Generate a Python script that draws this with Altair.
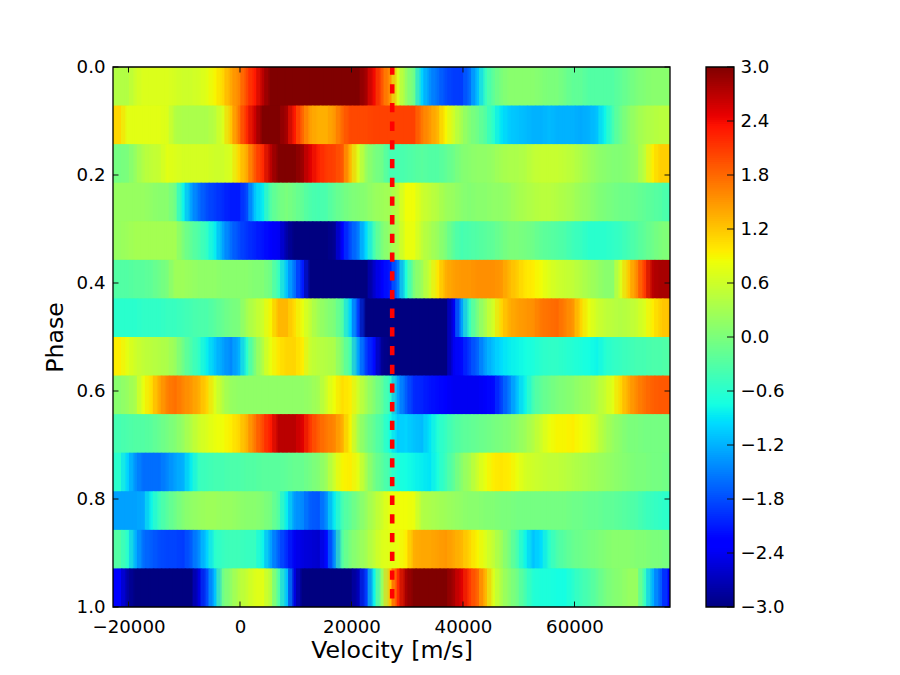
import altair as alt
import numpy as np
import pandas as pd

X_DOMAIN = [-22780, 77130]
VEL_LINE = 27300
X_TICKS = [-20000, 0, 20000, 40000, 60000]
Y_TICKS = [0.0, 0.2, 0.4, 0.6, 0.8, 1.0]
C_TICKS = [-3.0, -2.4, -1.8, -1.2, -0.6, 0.0, 0.6, 1.2, 1.8, 2.4, 3.0]

row00 = [.4,.4,.6,.7,.7,.7,.7,.65,.6,.6,.65,.75,.9,1.1,1.4,1.6,2.0,2.3,2.7,3,3,3,3,3,3,3,3,3,3,3,3,2.8,2.4,1.9,1.5,.7,.2,-.1,-1.0,-1.4,-1.6,-1.8,-1.9,-1.9,-1.6,-1.1,-.5,-.2,0,.1,.1,.1,.1,.05,0,0,-.1,-.2,-.2,-.3,-.3,-.3,-.3,-.2,-.1,0,.05,.1,.1,.1]
row01 = [1.1,.75,.75,.75,.75,.75,.7,.4,.35,.35,.35,.35,.45,.7,1.2,1.7,2.2,2.6,3,3,3,2.8,2.3,1.8,1.45,1.35,1.35,1.5,1.8,2,2,2,2.05,2.05,2.05,2.05,2.05,2.05,1.7,1.5,1.3,.9,.6,.3,.05,-.1,-.3,-.6,-.9,-1.05,-1.1,-1.15,-1.2,-1.2,-1.15,-1.2,-1.2,-1.2,-1.25,-1.2,-1.1,-.8,-.4,-.1,.1,.25,.35,.4,.45,.45]
row02 = [-.05,0,.2,.4,.5,.55,.75,.7,.65,.65,.65,.65,.6,.6,.7,1.1,1.4,1.9,2.2,2.7,3,3,3,2.85,2.5,2.25,2.1,2.05,1.9,1.3,.7,.2,0,-.1,-.4,-.4,-.35,-.3,-.25,-.3,-.3,-.2,-.1,.05,.1,.15,.15,.2,.3,.35,.35,.4,.5,.55,.55,.55,.5,.45,.35,.25,.15,.1,.05,.05,.1,.2,.5,.95,1.15,1.15]
row03 = [.2,.2,.2,.2,.15,.1,.1,-.1,-.8,-1.3,-1.6,-1.8,-1.9,-2,-2.1,-2.1,-1.8,-1.1,-.85,-.3,-.1,0,-.1,-.2,-.35,-.4,-.35,-.2,-.1,0,.05,.1,.2,.25,.3,.45,.85,.85,.6,.5,.4,.25,.2,.1,.05,.1,.1,.15,.15,.2,.3,.35,.4,.45,.45,.4,.35,.3,.2,.15,.05,0,-.05,-.1,-.1,-.15,-.2,-.25,-.3,-.4]
row04 = [.2,.25,.3,.3,.3,.3,.3,.3,0,-.2,-.35,-.55,-.85,-1.3,-1.6,-1.8,-1.95,-2.05,-2.15,-2.25,-2.4,-2.8,-3,-3,-3,-3,-3,-2.9,-2.3,-1.8,-1.5,-.95,-.4,0,.2,.4,.8,.8,.5,.35,.2,0,-.25,-.4,-.35,-.3,-.25,-.2,-.1,0,0,-.05,-.1,-.2,-.25,-.3,-.35,-.45,-.5,-.6,-.6,-.6,-.55,-.5,-.4,-.3,-.2,-.1,0,.05]
row05 = [-.3,-.3,-.25,-.25,-.2,-.1,0,.25,.25,.2,.15,.15,.15,.1,.1,.1,.1,.05,.05,-.1,-.5,-1.1,-1.6,-2.1,-3,-3,-3,-3,-3,-3,-3,-3,-2.6,-2.3,-2.1,-1.5,-.7,0,.25,.6,1.0,1.35,1.45,1.5,1.5,1.55,1.55,1.55,1.5,1.3,1.15,1.0,.95,.85,.7,.6,.55,.5,.4,.3,.2,.1,.1,.7,1.2,1.6,2.1,2.7,2.8,2.8]
row06 = [-.6,-.6,-.6,-.55,-.55,-.55,-.5,-.5,-.45,-.4,-.35,-.35,-.25,-.15,-.05,0,.3,.45,.6,.9,1.3,1.3,1.05,.8,.5,.25,.1,0,-.3,-1.0,-1.9,-3,-3,-3,-3,-3,-3,-3,-3,-3,-3,-3,-2.4,-1.3,-.5,0,.35,.65,1.1,1.35,1.45,1.5,1.55,1.7,1.75,1.8,1.65,1.5,1.1,.8,.6,.5,.45,.4,.45,.55,.7,.95,1.15,1.25]
row07 = [.95,.75,.6,.5,.45,.4,.35,.2,-.1,-.35,-.55,-.85,-1.1,-1.3,-1.45,-1.2,-.6,0,.4,.8,1.0,1.1,1.1,.95,.55,.45,.4,.35,0,-.4,-1.3,-1.9,-2.2,-2.9,-3,-3,-3,-3,-3,-3,-3,-3,-2.4,-2.2,-1.9,-1.65,-1.3,-1.1,-.95,-.85,-.8,-.75,-.7,-.6,-.55,-.55,-.6,-.65,-.7,-.75,-.8,-.65,-.55,-.5,-.45,-.4,-.4,-.35,-.35,-.3]
row08 = [.1,.2,.35,.8,1.05,1.4,1.65,1.75,1.6,1.5,1.35,1.1,.7,.4,.2,.15,.15,.15,.15,.15,.15,.15,.15,.15,.2,.3,.6,.85,1.05,.95,.6,.3,.05,-.2,-.55,-1.3,-1.7,-2,-2.05,-2.15,-2.2,-2.3,-2.4,-2.4,-2.4,-2.4,-2.35,-2.2,-1.85,-1.5,-1.1,-.8,-.4,-.2,-.1,0,.05,.1,.2,.25,.4,.55,.75,1.1,1.4,1.6,1.75,1.85,1.9,1.9]
row09 = [-.4,-.35,-.3,-.3,-.25,-.15,-.05,.05,.2,.4,.6,.7,.8,.85,.95,1.1,1.35,1.7,2.0,2.3,2.7,2.7,2.7,2.5,2.1,1.85,1.7,1.6,1.35,.9,.3,0,-.2,-.4,-.75,-1.05,-1,-1.1,-1.15,-.9,-.65,-.5,-.35,-.25,-.2,-.15,-.1,-.05,0,.05,.15,.25,.4,.6,.8,.9,.9,.95,.85,.75,.55,.35,.2,.1,0,0,-.05,-.05,-.05,-.05]
row10 = [-.6,-1.0,-1.4,-1.6,-1.6,-1.6,-1.45,-1.3,-1.2,-.85,-.5,-.45,-.4,-.4,-.35,-.35,-.3,-.3,-.25,-.25,-.25,-.2,-.15,-.15,-.05,.05,.25,.6,.9,.95,.75,.3,-.05,-.25,-.45,-.7,-.75,-.8,-.85,-.9,-.7,-.45,-.2,.1,.3,.6,.8,.95,1.0,.95,.8,.65,.6,.55,.5,.5,.45,.4,.35,.3,.25,.2,.15,.1,.05,0,0,-.05,-.05,-.1]
row11 = [-1.3,-1.3,-1.3,-1.25,-.8,-.45,-.25,-.1,.05,.15,.2,.25,.25,.2,.2,.15,.1,.1,.05,-.05,-.3,-.85,-1.35,-1.45,-1.7,-1.75,-1.4,-.85,-.4,-.2,0,.2,.4,.6,.8,.85,.85,.8,.4,.35,.3,.25,.2,.15,.1,.1,.05,.05,0,0,-.05,-.05,-.05,-.05,-.05,-.05,-.05,-.1,-.1,-.15,-.15,-.2,-.2,-.25,-.3,-.35,-.45,-.5,-.55,-.6]
row12 = [-.3,-.6,-1.2,-1.6,-1.7,-1.8,-1.85,-1.85,-1.9,-1.7,-1.4,-1.0,-.6,-.5,-.45,-.45,-.5,-.5,-.8,-1.3,-1.7,-2.0,-2.4,-2.5,-2.55,-2.6,-2.2,-1.4,-.3,0,.15,.3,.5,.7,.75,.8,.95,1.35,1.4,1.4,1.45,1.5,1.4,1.3,1.1,.9,.7,.5,.25,-.05,-.4,-.8,-1.1,-.95,-.6,-.35,-.25,-.15,-.1,-.05,0,.05,.1,.1,.1,.05,.05,0,0,-.05]
row13 = [-2.3,-2.8,-3,-3,-3,-3,-3,-3,-3,-3,-2.5,-1.8,-1.1,-.1,.15,.4,.55,.7,.75,.4,-.35,-1.1,-2.5,-3,-3,-3,-3,-3,-3,-3,-2.7,-1.9,-.8,.2,1.2,2.2,2.8,3,3,3,3,3,2.8,2.5,2.1,1.8,1.3,.7,.35,.1,-.1,-.4,-.65,-.7,-.7,-.75,-.75,-.6,-.45,-.35,-.2,-.05,.05,.1,.2,.2,-.5,-1.2,-1.7,-2.3]

rows = [row00,row01,row02,row03,row04,row05,row06,row07,row08,row09,row10,row11,row12,row13]

JET_T = [-3.0,-2.34,-2.25,-0.96,-0.9,-0.75,0.84,0.9,0.96,2.34,2.46,3.0]
JET_C = ["#000080","#0000ff","#0000ff","#00dbff","#00e5f7","#15ffe2","#eeff08","#f7f600","#ffec00","#ff1300","#e80000","#800000"]

W, H = 557, 540
FONT = "DejaVu Sans"
color_scale = alt.Scale(domain=JET_T, range=JET_C, interpolate="rgb", clamp=True)
n_col = len(row00)
edges = np.linspace(X_DOMAIN[0], X_DOMAIN[1], n_col + 1)
step = edges[1] - edges[0]
cells, cells_half = [], []
for r, vals in enumerate(rows):
    y2 = min(1.0, (r + 1) / 14 + 0.002)
    for c, v in enumerate(vals):
        cells.append({"x": edges[c], "x2": min(edges[c + 1] + step * 0.2, X_DOMAIN[1]),
                      "y": r / 14, "y2": y2, "v": v})
        # second pass, half a column along, blends neighbouring columns
        cells_half.append({"x": edges[c] + step / 2,
                           "x2": min(edges[c + 1] + step * 0.7, X_DOMAIN[1]),
                           "y": r / 14, "y2": (r + 1) / 14, "v": v})
cells = pd.DataFrame(cells)
cells_half = pd.DataFrame(cells_half)
cells_half = cells_half[cells_half["x"] < X_DOMAIN[1] - step]

xs = alt.Scale(domain=X_DOMAIN, nice=False, zero=False)
ys = alt.Scale(domain=[0, 1], reverse=True, nice=False, zero=False)

heat = alt.Chart(cells).mark_rect().encode(
    x=alt.X("x:Q", scale=xs, title="Velocity [m/s]",
            axis=alt.Axis(values=X_TICKS, format="d", ticks=False, domain=False, grid=False,
                          labelPadding=11, titlePadding=3, labelFontSize=18.2, titleFontSize=23.6,
                          labelFont=FONT, titleFont=FONT, titleFontWeight="normal",
                          labelColor="black", titleColor="black", labelFlush=False)),
    x2="x2:Q",
    y=alt.Y("y:Q", scale=ys, title="Phase",
            axis=alt.Axis(values=Y_TICKS, format=".1f", ticks=False, domain=False, grid=False,
                          labelPadding=8, titlePadding=9, labelFontSize=18.2, titleFontSize=23.6,
                          labelFont=FONT, titleFont=FONT, titleFontWeight="normal",
                          labelColor="black", titleColor="black")),
    y2="y2:Q",
    color=alt.Color("v:Q", scale=color_scale, legend=None),
)

# The half-column pass is only a blend: it keeps to the plot area.
heat2 = alt.Chart(cells_half).mark_rect(opacity=0.5).encode(
    x=alt.X("x:Q", scale=xs), x2="x2:Q",
    y=alt.Y("y:Q", scale=ys), y2="y2:Q",
    color=alt.Color("v:Q", scale=color_scale, legend=None),
)

vline = alt.Chart(pd.DataFrame({"x": [VEL_LINE]})).mark_rule(
    color="#ff0000", strokeWidth=4.6, strokeDash=[9.3, 9.4], strokeDashOffset=1.5).encode(
    x=alt.X("x:Q", scale=xs), y=alt.value(0), y2=alt.value(H))

xt = pd.DataFrame({"x": X_TICKS})
yt = pd.DataFrame({"y": Y_TICKS})
TL = 5.5
tick_kw = dict(color="#111111", strokeWidth=1)
t1 = alt.Chart(xt).mark_rule(**tick_kw).encode(x=alt.X("x:Q", scale=xs), y=alt.value(H), y2=alt.value(H - TL))
t2 = alt.Chart(xt).mark_rule(**tick_kw).encode(x=alt.X("x:Q", scale=xs), y=alt.value(0), y2=alt.value(TL))
t3 = alt.Chart(yt).mark_rule(**tick_kw).encode(y=alt.Y("y:Q", scale=ys), x=alt.value(0), x2=alt.value(TL))
t4 = alt.Chart(yt).mark_rule(**tick_kw).encode(y=alt.Y("y:Q", scale=ys), x=alt.value(W), x2=alt.value(W - TL))

frame = alt.Chart(pd.DataFrame({"a": [X_DOMAIN[0]], "b": [X_DOMAIN[1]], "c": [0], "d": [1]})).mark_rect(
    filled=False, stroke="black", strokeWidth=1.3).encode(
    x=alt.X("a:Q", scale=xs), x2="b:Q", y=alt.Y("c:Q", scale=ys), y2="d:Q")

main = alt.layer(heat, heat2, vline, t1, t2, t3, t4, frame).properties(width=W, height=H)

# colour bar
lv = np.linspace(-3, 3, 257)
bar_df = pd.DataFrame({"a": lv[:-1], "b": np.minimum(lv[1:] + 0.02, 3), "v": (lv[:-1] + lv[1:]) / 2})
cs = alt.Scale(domain=[-3, 3], nice=False, zero=False)
bar = alt.Chart(bar_df).mark_rect().encode(
    y=alt.Y("a:Q", scale=cs, title=None,
            axis=alt.Axis(orient="right", values=C_TICKS, format=".1f", ticks=False, domain=False, grid=False,
                          labelPadding=6, labelFontSize=18.2, labelFont=FONT, labelColor="black")),
    y2="b:Q",
    x=alt.value(0), x2=alt.value(28),
    color=alt.Color("v:Q", scale=color_scale, legend=None),
)
ct = pd.DataFrame({"y": C_TICKS})
bar_t = alt.Chart(ct).mark_rule(**tick_kw).encode(y=alt.Y("y:Q", scale=cs), x=alt.value(28), x2=alt.value(21))
bar_f = alt.Chart(pd.DataFrame({"c": [-3], "d": [3]})).mark_rect(
    filled=False, stroke="black", strokeWidth=1.3).encode(
    y=alt.Y("c:Q", scale=cs), y2="d:Q", x=alt.value(0), x2=alt.value(28))
cbar = alt.layer(bar, bar_t, bar_f).properties(width=28, height=H)

chart = alt.hconcat(main, cbar, spacing=34).configure_view(stroke=None).properties(
    padding={"left": 35, "top": 49, "right": 5, "bottom": 5}, background="white")

assert all(len(r) == n_col for r in rows), [len(r) for r in rows]
chart.save("out.html", embed_options={"renderer": "svg", "actions": False})
